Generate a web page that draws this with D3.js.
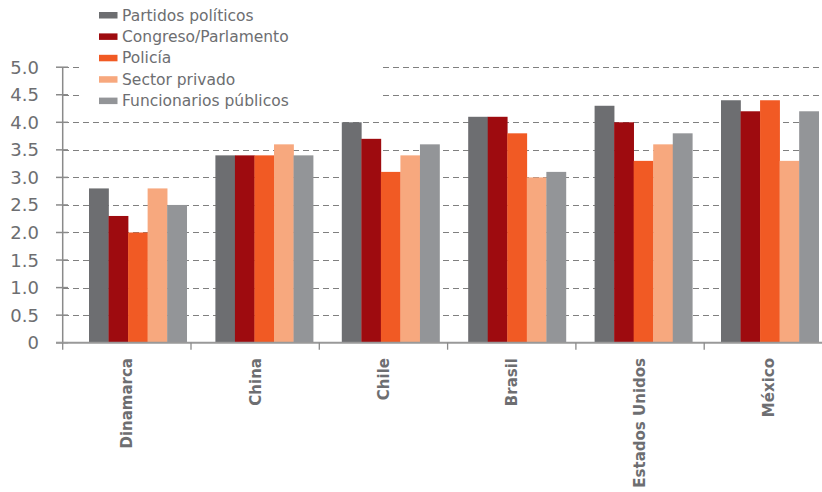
<!DOCTYPE html>
<html>
<head>
<meta charset="utf-8">
<script src="https://cdn.jsdelivr.net/npm/d3@7"></script>
<style>
  html, body { margin: 0; padding: 0; background: #fff; }
  svg { display: block; font-family: "DejaVu Sans", Verdana, sans-serif; }
</style>
</head>
<body>
<svg id="chart" width="822" height="492"></svg>
<script>
// Countries along the x axis
const categories = ["Dinamarca", "China", "Chile", "Brasil", "Estados Unidos", "México"];

// Series (one value per country)
const seriesNames = ["Partidos políticos", "Congreso/Parlamento", "Policía", "Sector privado", "Funcionarios públicos"];
const partidos      = [2.8, 3.4, 4.0, 4.1, 4.3, 4.4];
const congreso      = [2.3, 3.4, 3.7, 4.1, 4.0, 4.2];
const policia       = [2.0, 3.4, 3.1, 3.8, 3.3, 4.4];
const sectorPrivado = [2.8, 3.6, 3.4, 3.0, 3.6, 3.3];
const funcionarios  = [2.5, 3.4, 3.6, 3.1, 3.8, 4.2];

// Y axis ticks
const yTicks = [0, 0.5, 1.0, 1.5, 2.0, 2.5, 3.0, 3.5, 4.0, 4.5, 5.0];
const yTickLabels = ["0", "0.5", "1.0", "1.5", "2.0", "2.5", "3.0", "3.5", "4.0", "4.5", "5.0"];

const seriesValues = [partidos, congreso, policia, sectorPrivado, funcionarios];
const colors = ["#6d6e71", "#9e0b0f", "#f15a24", "#f7a87e", "#939598"];

const svg = d3.select("#chart");

const y = d3.scaleLinear().domain([0, 5]).range([342.7, 67.2]);

// Category bands used for axis ticks and labels
const xAxisBand = d3.scaleBand().domain(categories).range([62.7, 832.5]).padding(0);
// Bar groups
const xGroup = d3.scaleBand().domain(categories).range([89, 818.7]).paddingInner(0.227).paddingOuter(0);
const xSeries = d3.scaleBand().domain(d3.range(seriesNames.length)).range([0, xGroup.bandwidth()]).padding(0);

// Dashed gridlines
svg.append("g")
  .selectAll("line")
  .data(yTicks.filter(t => t > 0))
  .join("line")
  .attr("x1", 63).attr("x2", 822)
  .attr("y1", d => Math.round(y(d)) + 0.5).attr("y2", d => Math.round(y(d)) + 0.5)
  .attr("stroke", "#808080")
  .attr("stroke-width", 1)
  .attr("stroke-dasharray", "6,4");

// Bars
const groups = svg.append("g")
  .selectAll("g")
  .data(categories)
  .join("g")
  .attr("transform", d => `translate(${xGroup(d)},0)`);

groups.selectAll("rect")
  .data((c, ci) => seriesValues.map((vals, si) => ({ si, v: vals[ci] })))
  .join("rect")
  .attr("x", d => xSeries(d.si))
  .attr("width", xSeries.bandwidth() + 0.3)
  .attr("y", d => y(d.v))
  .attr("height", d => y(0) - y(d.v))
  .attr("fill", d => colors[d.si]);

// Y axis line and ticks
svg.append("line")
  .attr("x1", 62.7).attr("x2", 62.7)
  .attr("y1", y(5)).attr("y2", y(0))
  .attr("stroke", "#8a8a8a").attr("stroke-width", 1.5);

svg.append("g")
  .selectAll("line")
  .data(yTicks)
  .join("line")
  .attr("x1", 56).attr("x2", 68)
  .attr("y1", d => y(d)).attr("y2", d => y(d))
  .attr("stroke", "#8a8a8a").attr("stroke-width", 1.5);

svg.append("g")
  .selectAll("text")
  .data(yTicks)
  .join("text")
  .attr("x", 39)
  .attr("y", d => y(d))
  .attr("dy", "0.36em")
  .attr("text-anchor", "end")
  .attr("font-size", "18px")
  .attr("fill", "#6d6e71")
  .text((d, i) => yTickLabels[i]);

// X axis baseline
svg.append("line")
  .attr("x1", 56).attr("x2", 822)
  .attr("y1", y(0)).attr("y2", y(0))
  .attr("stroke", "#999999").attr("stroke-width", 2);

// Category separators below the baseline
svg.append("g")
  .selectAll("line")
  .data(categories)
  .join("line")
  .attr("x1", d => xAxisBand(d)).attr("x2", d => xAxisBand(d))
  .attr("y1", y(0)).attr("y2", y(0) + 7)
  .attr("stroke", "#8a8a8a").attr("stroke-width", 1.3);

// Rotated country labels
svg.append("g")
  .selectAll("text")
  .data(categories)
  .join("text")
  .attr("transform", d => `translate(${xAxisBand(d) + xAxisBand.bandwidth() / 2},358) rotate(-90)`)
  .attr("dy", "0.36em")
  .attr("text-anchor", "end")
  .attr("font-size", "15px")
  .attr("font-weight", "bold")
  .attr("fill", "#6d6e71")
  .text(d => d);

// Legend on a white panel
const legend = svg.append("g");
legend.append("rect")
  .attr("x", 80).attr("y", 0).attr("width", 300).attr("height", 112)
  .attr("fill", "#fff");

const items = legend.selectAll("g.item")
  .data(seriesNames)
  .join("g")
  .attr("class", "item")
  .attr("transform", (d, i) => `translate(99,${15 + i * 21.4})`);

items.append("rect")
  .attr("x", 0).attr("y", -3).attr("width", 18.5).attr("height", 6.5)
  .attr("fill", (d, i) => colors[i]);

items.append("text")
  .attr("x", 23)
  .attr("y", 0)
  .attr("dy", "0.36em")
  .attr("font-size", "15.5px")
  .attr("fill", "#6d6e71")
  .text(d => d);
</script>
</body>
</html>
